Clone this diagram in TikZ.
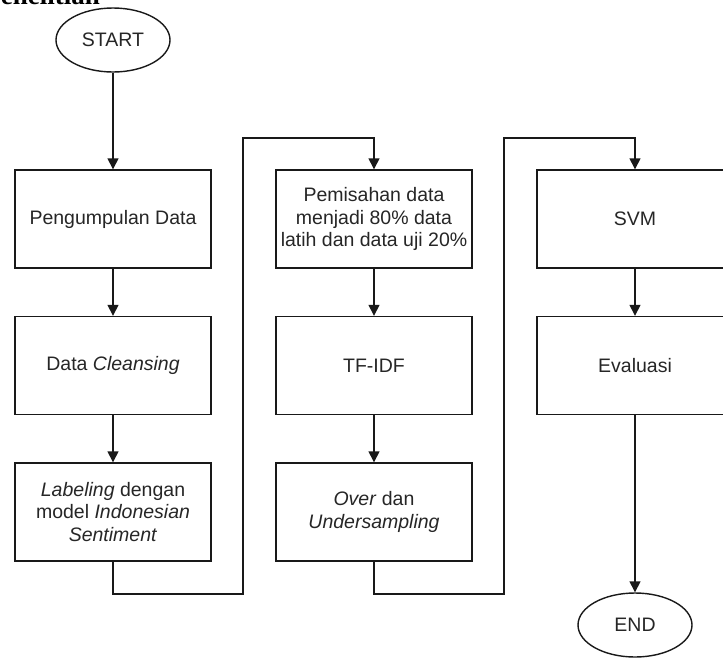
\documentclass[tikz,border=0pt]{standalone}
\usepackage{fontspec}
\setmainfont{Liberation Sans}
\newfontfamily\headfont{Liberation Serif}
\usetikzlibrary{shapes.geometric,arrows.meta}

\begin{document}
\begin{tikzpicture}[x=1pt,y=-1pt,
  stepbox/.style={draw=black!90, line width=1.4pt, fill=white,
    minimum width=196pt, minimum height=98pt, inner sep=0pt,
    align=center, text=black!85, font=\fontsize{19.5}{22.5}\selectfont},
  terminal/.style={ellipse, draw=black!90, line width=1.4pt, fill=white,
    minimum width=114pt, minimum height=64pt, inner sep=0pt,
    text=black!85, font=\fontsize{19.5}{22.5}\selectfont},
  flow/.style={draw=black!90, line width=1.4pt, -{Triangle[length=11pt,width=11pt]}},
]
% page frame and clipping
\useasboundingbox (0,0) rectangle (723,657);
\clip (0,0) rectangle (723,657);

% heading line of the surrounding text
\node[anchor=base east, inner sep=0pt, font=\headfont\bfseries\fontsize{27}{30}\selectfont] (head) at (100,4) {Penelitian};

% terminals
\node[terminal] (start) at (113,40) {START};
\node[terminal] (end) at (635,625) {END};

% first column
\node[stepbox] (b1) at (113,219) {Pengumpulan Data};
\node[stepbox] (b2) at (113,365.5) {Data \textit{Cleansing}};
\node[stepbox] (b3) at (113,512) {\textit{Labeling} dengan\\model \textit{Indonesian}\\\textit{Sentiment}};

% second column
\node[stepbox] (b4) at (374,219) {Pemisahan data\\menjadi 80\% data\\latih dan data uji 20\%};
\node[stepbox] (b5) at (374,365.5) {TF-IDF};
\node[stepbox] (b6) at (374,512) {\textit{Over} dan\\\textit{Undersampling}};

% third column
\node[stepbox] (c1) at (635,219) {SVM};
\node[stepbox] (c2) at (635,365.5) {Evaluasi};

% bend points of the column links
\coordinate (k1) at (243,594);
\coordinate (k2) at (243,138);
\coordinate (k3) at (504,594);
\coordinate (k4) at (504,138);

% connectors
\draw[flow] (start) -- (b1);
\draw[flow] (b1) -- (b2);
\draw[flow] (b2) -- (b3);
\draw[flow] (b3.south) |- (k1) -- (k2) -| (b4.north);
\draw[flow] (b4) -- (b5);
\draw[flow] (b5) -- (b6);
\draw[flow] (b6.south) |- (k3) -- (k4) -| (c1.north);
\draw[flow] (c1) -- (c2);
\draw[flow] (c2) -- (end);
\end{tikzpicture}
\end{document}
